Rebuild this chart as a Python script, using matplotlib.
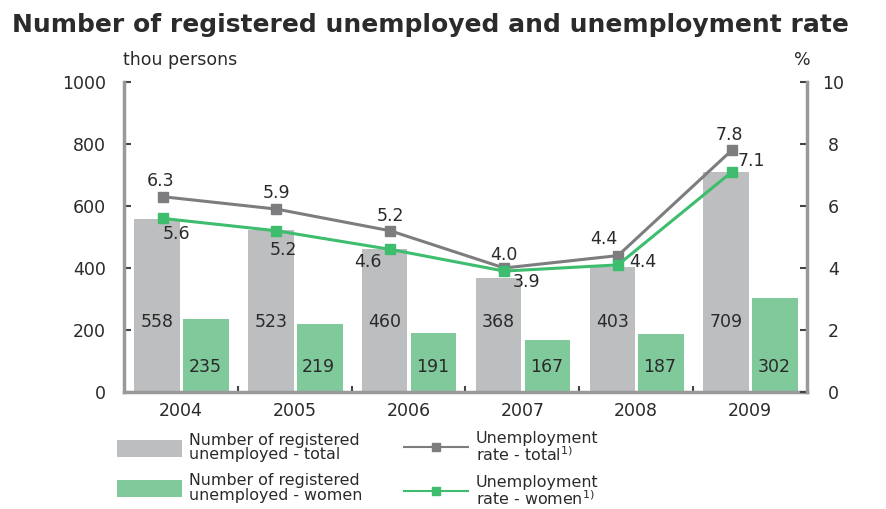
"""Registered unemployed and unemployment rate, 2004-2009"""

import matplotlib.pyplot as plt
from matplotlib.patches import Patch
from matplotlib.lines import Line2D
import numpy as np

# data
years = ['2004', '2005', '2006', '2007', '2008', '2009']
unemployed_total = [558, 523, 460, 368, 403, 709]
unemployed_women = [235, 219, 191, 167, 187, 302]
rate_total = [6.3, 5.9, 5.2, 4.0, 4.4, 7.8]
rate_women = [5.6, 5.2, 4.6, 3.9, 4.1, 7.1]
rate_women_labels = ['5.6', '5.2', '4.6', '3.9', '4.4', '7.1']

# label offsets in points (dx, dy) from each marker
total_offsets = [(-1.5, 11.5), (0, 11.5), (0, 11), (0, 9.5), (-10, 12), (-2, 11)]
women_offsets = [(10, -11.5), (5, -14), (-16, -9), (16, -8), (18, 2), (14, 8)]

GRAY_BAR = '#bdbec0'
GREEN_BAR = '#80c99b'
GRAY_LINE = '#7d7d80'
GREEN_LINE = '#3dbd6d'
AXIS = '#999999'
TEXT = '#2a2a2a'
NUM_SIZE = 12.5

plt.rcParams['font.family'] = ['DejaVu Sans']
plt.rcParams['text.color'] = TEXT

fig = plt.figure(figsize=(8.86, 5.09), dpi=100)
ax = fig.add_axes([0.1399, 0.2299, 0.7709, 0.6090])
ax2 = ax.twinx()

x = np.arange(len(years))
w = 0.4

# bars
ax.bar(x - 0.21, unemployed_total, width=w, color=GRAY_BAR, zorder=1)
ax.bar(x + 0.22, unemployed_women, width=w, color=GREEN_BAR, zorder=1)
for i in range(len(years)):
    ax.text(x[i] - 0.21, 226, str(unemployed_total[i]), ha='center', va='center',
            fontsize=NUM_SIZE, color=TEXT)
    ax.text(x[i] + 0.21, 80, str(unemployed_women[i]), ha='center', va='center',
            fontsize=NUM_SIZE, color=TEXT)

ax.set_xlim(-0.5, len(years) - 0.5)
ax.set_ylim(0, 1000)
ax.set_yticks([0, 200, 400, 600, 800, 1000])
ax.set_xticks(x)
ax.set_xticklabels(years)
ax.set_xticks(np.arange(0.5, len(years) - 0.5, 1), minor=True)

# rate lines
ax2.plot(x - 0.16, rate_total, color=GRAY_LINE, lw=2.2, marker='s', ms=6.5, zorder=3)
ax2.plot(x - 0.16, rate_women, color=GREEN_LINE, lw=2.2, marker='s', ms=6.5, zorder=3)
ax2.set_ylim(0, 10)
ax2.set_yticks([0, 2, 4, 6, 8, 10])

for i in range(len(years)):
    ax2.annotate(f'{rate_total[i]:.1f}', (x[i] - 0.16, rate_total[i]),
                 xytext=total_offsets[i], textcoords='offset points',
                 ha='center', va='center', fontsize=NUM_SIZE)
    ax2.annotate(rate_women_labels[i], (x[i] - 0.16, rate_women[i]),
                 xytext=women_offsets[i], textcoords='offset points',
                 ha='center', va='center', fontsize=NUM_SIZE)

# axes styling
for a in (ax, ax2):
    for s in a.spines.values():
        s.set_color(AXIS)
        s.set_linewidth(2.5)
    a.spines['top'].set_visible(False)
ax.spines['right'].set_visible(False)
ax2.spines['left'].set_visible(False)
ax2.spines['bottom'].set_visible(False)
ax.tick_params(axis='y', direction='in', length=5, width=1.5, color='#444444',
               labelsize=NUM_SIZE, pad=13, labelcolor=TEXT)
ax2.tick_params(axis='y', direction='in', length=5, width=1.5, color='#444444',
                labelsize=NUM_SIZE, pad=19, labelcolor=TEXT)
for lab in ax2.get_yticklabels():
    lab.set_horizontalalignment('center')
ax.tick_params(axis='x', which='major', length=0, labelsize=NUM_SIZE, pad=7,
               labelcolor=TEXT)
ax.tick_params(axis='x', which='minor', direction='in', length=4, width=1.5,
               color='#444444')
ax.set_zorder(ax2.get_zorder() - 1)
ax2.patch.set_visible(False)

# titles and unit labels
fig.text(0.014, 0.951, 'Number of registered unemployed and unemployment rate',
         fontsize=18, fontweight='bold', va='center', color='#2b2b2b')
fig.text(0.139, 0.882, 'thou persons', fontsize=NUM_SIZE, va='center')
fig.text(0.906, 0.882, '%', fontsize=NUM_SIZE, va='center', ha='center')

# legend
handles = [
    Patch(facecolor=GRAY_BAR),
    Patch(facecolor=GREEN_BAR),
    Line2D([], [], color=GRAY_LINE, lw=1.5, marker='s', ms=6),
    Line2D([], [], color=GREEN_LINE, lw=1.5, marker='s', ms=6),
]
labels = [
    'Number of registered\nunemployed - total',
    'Number of registered\nunemployed - women',
    'Unemployment\nrate - total$^{1)}$',
    'Unemployment\nrate - women$^{1)}$',
]
leg = fig.legend(handles, labels, ncol=2, loc='upper left',
                 bbox_to_anchor=(0.132, 0.153), frameon=False, fontsize=11.4,
                 handlelength=4.1, handleheight=1.3, labelspacing=0.7,
                 columnspacing=2.6, handletextpad=0.45,
                 borderaxespad=0, borderpad=0)
for t in leg.get_texts():
    t.set_linespacing(0.95)

plt.savefig('out.png', dpi=100)
